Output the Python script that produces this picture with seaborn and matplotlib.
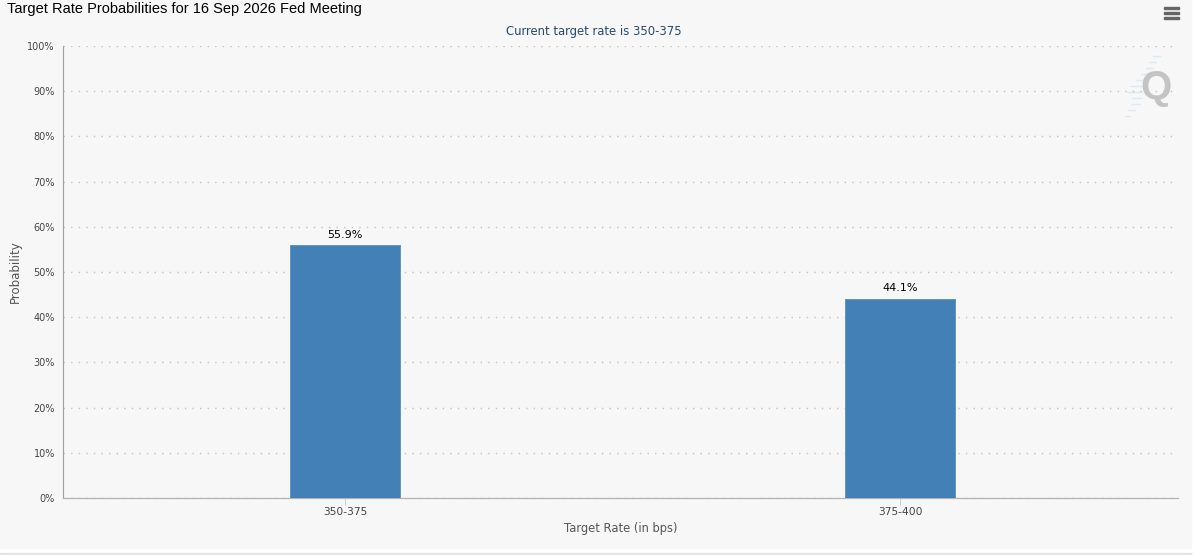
import matplotlib
matplotlib.use('Agg')
import matplotlib.pyplot as plt
from matplotlib.patches import Rectangle
from matplotlib.lines import Line2D
from matplotlib.ticker import FuncFormatter
import pandas as pd
import seaborn as sns

rates = ['350-375', '375-400']
probs = [55.9, 44.1]
yticks = [0, 10, 20, 30, 40, 50, 60, 70, 80, 90, 100]

W, H = 1200, 555
bg = '#f7f7f7'

sns.set_theme(style='white')
plt.rcParams['font.family'] = ['DejaVu Sans']

df = pd.DataFrame({'rate': rates, 'prob': probs})

fig = plt.figure(figsize=(W / 100, H / 100), dpi=100, facecolor='white')
fig.add_artist(Rectangle((0, 7 / H), 1191 / W, 548 / H, transform=fig.transFigure, color=bg, zorder=-5))
fig.add_artist(Rectangle((0, 0), 1191 / W, 2 / H, transform=fig.transFigure, color='#e4e4e4', zorder=-5))
ax = fig.add_axes([62.5 / W, (H - 498) / H, (1178 - 62.5) / W, 452 / H])
ax.patch.set_alpha(0)

sns.barplot(data=df, x='rate', y='prob', color='#4380b6', saturation=1, width=0.198, ax=ax, zorder=3)
for b in ax.patches:
    b.set_edgecolor('#5f95c6')
    b.set_linewidth(0.7)

ax.set_xlim(-0.5086, 1.5005)
ax.set_ylim(0, 100)
ax.set_yticks(yticks)
ax.yaxis.set_major_formatter(FuncFormatter(lambda v, p: f'{v:.0f}%'))
ax.grid(axis='y', color='#c4c4c4', linestyle=(0, (1, 4.2)), linewidth=1.05, zorder=0)
ax.set_axisbelow(True)
ax.tick_params(axis='y', length=0, pad=5.5, labelsize=7, labelcolor='#444444')
ax.tick_params(axis='x', length=5, width=0.7, color='#c0d0e0', bottom=True, pad=1.5, labelsize=7.7, labelcolor='#444444')

for s in ['top', 'right']:
    ax.spines[s].set_visible(False)
ax.spines['left'].set_color('#a0a0a0')
ax.spines['left'].set_linewidth(0.8)
ax.spines['bottom'].set_color('#b4b4b4')
ax.spines['bottom'].set_linewidth(0.9)

ax.set_xlabel('Target Rate (in bps)', fontsize=8.3, color='#555555', labelpad=3.5)
ax.set_ylabel('Probability', fontsize=8.5, color='#555555', labelpad=0)
ax.yaxis.set_label_coords((22 - 62.5) / (1178 - 62.5), 0.5)

for i, p in enumerate(probs):
    ax.annotate(f'{p}%', (i, p), xytext=(0, 4), textcoords='offset points', ha='center', va='bottom',
                fontsize=8, color='black')

fig.text(7 / W, 1 - 9 / H, 'Target Rate Probabilities for 16 Sep 2026 Fed Meeting', family='Liberation Sans',
         fontsize=10.5, color='black', ha='left', va='center')
fig.text(594 / W, 1 - 32 / H, 'Current target rate is 350-375', fontsize=8.4, color='#274b6d', ha='center', va='center')

# watermark
for y0, x0, x1 in [(56, 1153, 1160), (62, 1150, 1156), (68, 1146, 1153), (74, 1141, 1149), (80, 1136, 1146),
                   (86, 1130, 1144), (92, 1127, 1142), (98, 1132, 1142), (104, 1131, 1140), (110, 1128, 1135),
                   (116, 1125, 1130)]:
    fig.add_artist(Line2D([x0 / W, x1 / W], [1 - y0 / H, 1 - y0 / H], color='#dceaf4', linewidth=1, zorder=-1))
fig.text(1156 / W, 1 - 88 / H, 'Q', family='Liberation Sans', fontweight='bold', fontsize=29, color='#c4c4c4',
         ha='center', va='center')

# menu icon
for y in [8, 13, 18]:
    fig.add_artist(Rectangle((1164 / W, 1 - (y + 1) / H), 15 / W, 2 / H, transform=fig.transFigure, color='#666666'))

fig.savefig('out.png', dpi=100, facecolor=fig.get_facecolor())
